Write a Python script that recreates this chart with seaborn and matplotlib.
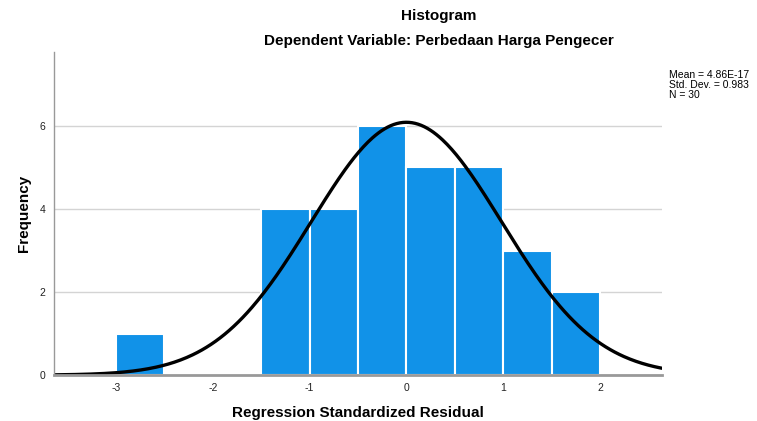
import numpy as np
import pandas as pd
import matplotlib
matplotlib.use("Agg")
import matplotlib.pyplot as plt
import seaborn as sns

# histogram bins (width 0.5) and counts
bin_edges = [-3.0, -2.5, -2.0, -1.5, -1.0, -0.5, 0.0, 0.5, 1.0, 1.5, 2.0]
counts = [1, 0, 0, 4, 4, 6, 5, 5, 3, 2]

mean = 4.86e-17
std_dev = 0.983
n = 30

BAR_COLOR = "#1192E8"


def main():

    sns.set_theme(style="white")
    plt.rcParams["font.family"] = ["Liberation Sans", "DejaVu Sans"]
    plt.rcParams["axes.unicode_minus"] = False
    plt.rcParams["text.color"] = "black"
    plt.rcParams["axes.labelcolor"] = "black"

    centers = [(a + b) / 2 for a, b in zip(bin_edges[:-1], bin_edges[1:])]
    df = pd.DataFrame({"resid": centers, "count": counts})

    fig = plt.figure(figsize=(7.57, 4.21), dpi=100)
    ax = fig.add_axes([0.0713, 0.109, 0.8032, 0.7675])

    ax.set_axisbelow(True)
    ax.yaxis.grid(True, color="#d4d4d4", linewidth=1)

    sns.histplot(data=df, x="resid", weights="count", bins=bin_edges,
                 color=BAR_COLOR, alpha=1, edgecolor="white", linewidth=1.5,
                 ax=ax)

    # fitted normal curve
    width = bin_edges[1] - bin_edges[0]
    xs = np.linspace(-3.64, 2.64, 400)
    ys = n * width / (std_dev * np.sqrt(2 * np.pi)) * np.exp(-0.5 * ((xs - mean) / std_dev) ** 2)
    sns.lineplot(x=xs, y=ys, color="black", linewidth=2.4, ax=ax)

    ax.set_xlim(-3.64, 2.64)
    ax.set_ylim(0, 7.78)
    ax.set_xticks([-3, -2, -1, 0, 1, 2])
    ax.set_yticks([0, 2, 4, 6])
    ax.tick_params(axis="both", labelsize=7.5, length=0, pad=6, colors="#222222")

    for side in ["top", "right"]:
        ax.spines[side].set_visible(False)
    ax.spines["left"].set_color("#999999")
    ax.spines["left"].set_linewidth(1)
    ax.spines["bottom"].set_color("#999999")
    ax.spines["bottom"].set_linewidth(2)

    ax.set_xlabel("Regression Standardized Residual", fontsize=11, fontweight="bold", labelpad=9)
    ax.set_ylabel("Frequency", fontsize=11, fontweight="bold", labelpad=6)

    fig.text(0.58, 0.963, "Histogram", ha="center", va="center",
             fontsize=11, fontweight="bold")
    fig.text(0.58, 0.903, "Dependent Variable: Perbedaan Harga Pengecer",
             ha="center", va="center", fontsize=11, fontweight="bold")

    fig.text(0.884, 0.833,
             f"Mean = {mean:.2E}\nStd. Dev. = {std_dev}\nN = {n}",
             ha="left", va="top", fontsize=7.5, linespacing=1.0)

    fig.savefig("out.png", dpi=100)


if __name__ == "__main__":
    main()
